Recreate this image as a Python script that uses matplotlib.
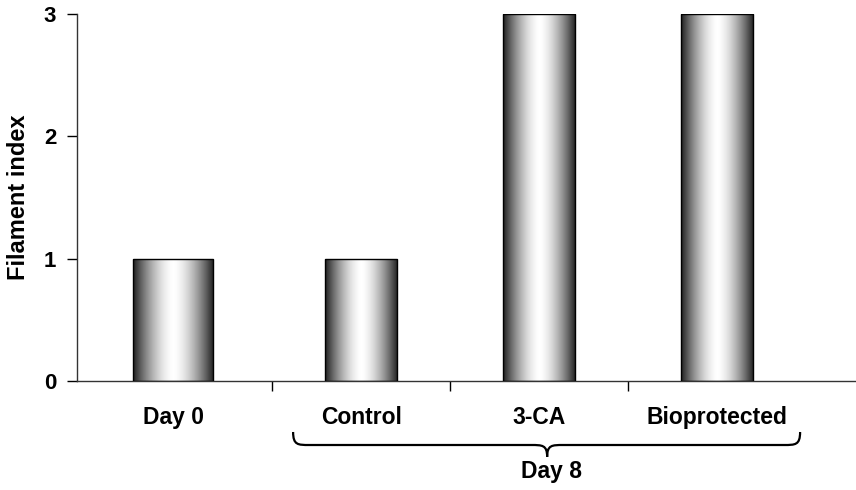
import numpy as np
import matplotlib
matplotlib.use("Agg")
import matplotlib.pyplot as plt
from matplotlib.path import Path
from matplotlib.patches import PathPatch, Rectangle

# Data
categories = ["Day 0", "Control", "3-CA", "Bioprotected"]
values = [1, 1, 3, 3]
positions = [0.944, 2.0, 3.0, 4.0]
widths = [0.45, 0.405, 0.405, 0.405]
group_label = "Day 8"
y_ticks = [0, 1, 2, 3]

plt.rcParams["font.family"] = ["Liberation Sans", "DejaVu Sans"]
plt.rcParams["font.weight"] = "bold"

fig = plt.figure(figsize=(8.56, 4.90), dpi=100)
ax = fig.add_axes([77 / 856, 1 - 380.7 / 490, (856 - 77) / 856, (380.7 - 14.3) / 490])

# Horizontal shading profile: dark edges, bright centre
t = np.linspace(0, 1, 256)
shade = 1.0 - 0.88 * np.abs(2 * t - 1) ** 1.6
grad = shade[np.newaxis, :]

for x, w, v in zip(positions, widths, values):
    left = x - w / 2
    im = ax.imshow(grad, cmap="gray", vmin=0, vmax=1, aspect="auto",
                   extent=(left, left + w, 0, v), interpolation="bilinear",
                   zorder=2)
    rect = Rectangle((left, 0), w, v, facecolor="none", edgecolor="black",
                     linewidth=1.0, zorder=3)
    ax.add_patch(rect)
    im.set_clip_path(rect)

ax.set_xlim(0.404, 4.78)
ax.set_ylim(0, 3)

for s in ["top", "right"]:
    ax.spines[s].set_visible(False)
for s in ["left", "bottom"]:
    ax.spines[s].set_color("#333333")
    ax.spines[s].set_linewidth(1.0)

ax.set_yticks(y_ticks)
ax.set_yticklabels([str(v) for v in y_ticks], fontsize=16, fontweight="bold")
ax.tick_params(axis="y", direction="out", length=7, width=1, pad=8)

# Category boundaries as major ticks, names as minor tick labels
ax.set_xticks([1.5, 2.5, 3.5])
ax.set_xticklabels([])
ax.tick_params(axis="x", which="major", direction="out", length=7, width=1)
ax.set_xticks(positions, minor=True)
ax.set_xticklabels(categories, minor=True, fontsize=16.5, fontweight="bold")
ax.tick_params(axis="x", which="minor", length=0, pad=18)

ax.set_ylabel("Filament index", fontsize=17, fontweight="bold", labelpad=10)

# Curly brace grouping the day-8 treatments
tr = ax.get_xaxis_transform()
xl, xr, xm = 1.618, 4.466, 3.045
y_top, y_mid, y_tip = -0.140, -0.1755, -0.208
c = 0.09
verts = [
    (xl, y_top),
    (xl, y_mid), (xl + c * 0.3, y_mid), (xl + c, y_mid),
    (xm - c, y_mid),
    (xm - c * 0.3, y_mid), (xm, y_mid), (xm, y_tip),
    (xm, y_mid), (xm + c * 0.3, y_mid), (xm + c, y_mid),
    (xr - c, y_mid),
    (xr - c * 0.3, y_mid), (xr, y_mid), (xr, y_top),
]
codes = [Path.MOVETO,
         Path.CURVE4, Path.CURVE4, Path.CURVE4,
         Path.LINETO,
         Path.CURVE4, Path.CURVE4, Path.CURVE4,
         Path.CURVE4, Path.CURVE4, Path.CURVE4,
         Path.LINETO,
         Path.CURVE4, Path.CURVE4, Path.CURVE4]
brace = PathPatch(Path(verts, codes), transform=tr, facecolor="none",
                  edgecolor="black", linewidth=1.6, clip_on=False)
ax.add_patch(brace)
ax.text(3.07, -0.249, group_label, transform=tr, ha="center", va="center",
        fontsize=16.5, fontweight="bold")

fig.savefig("out.png", dpi=100)
